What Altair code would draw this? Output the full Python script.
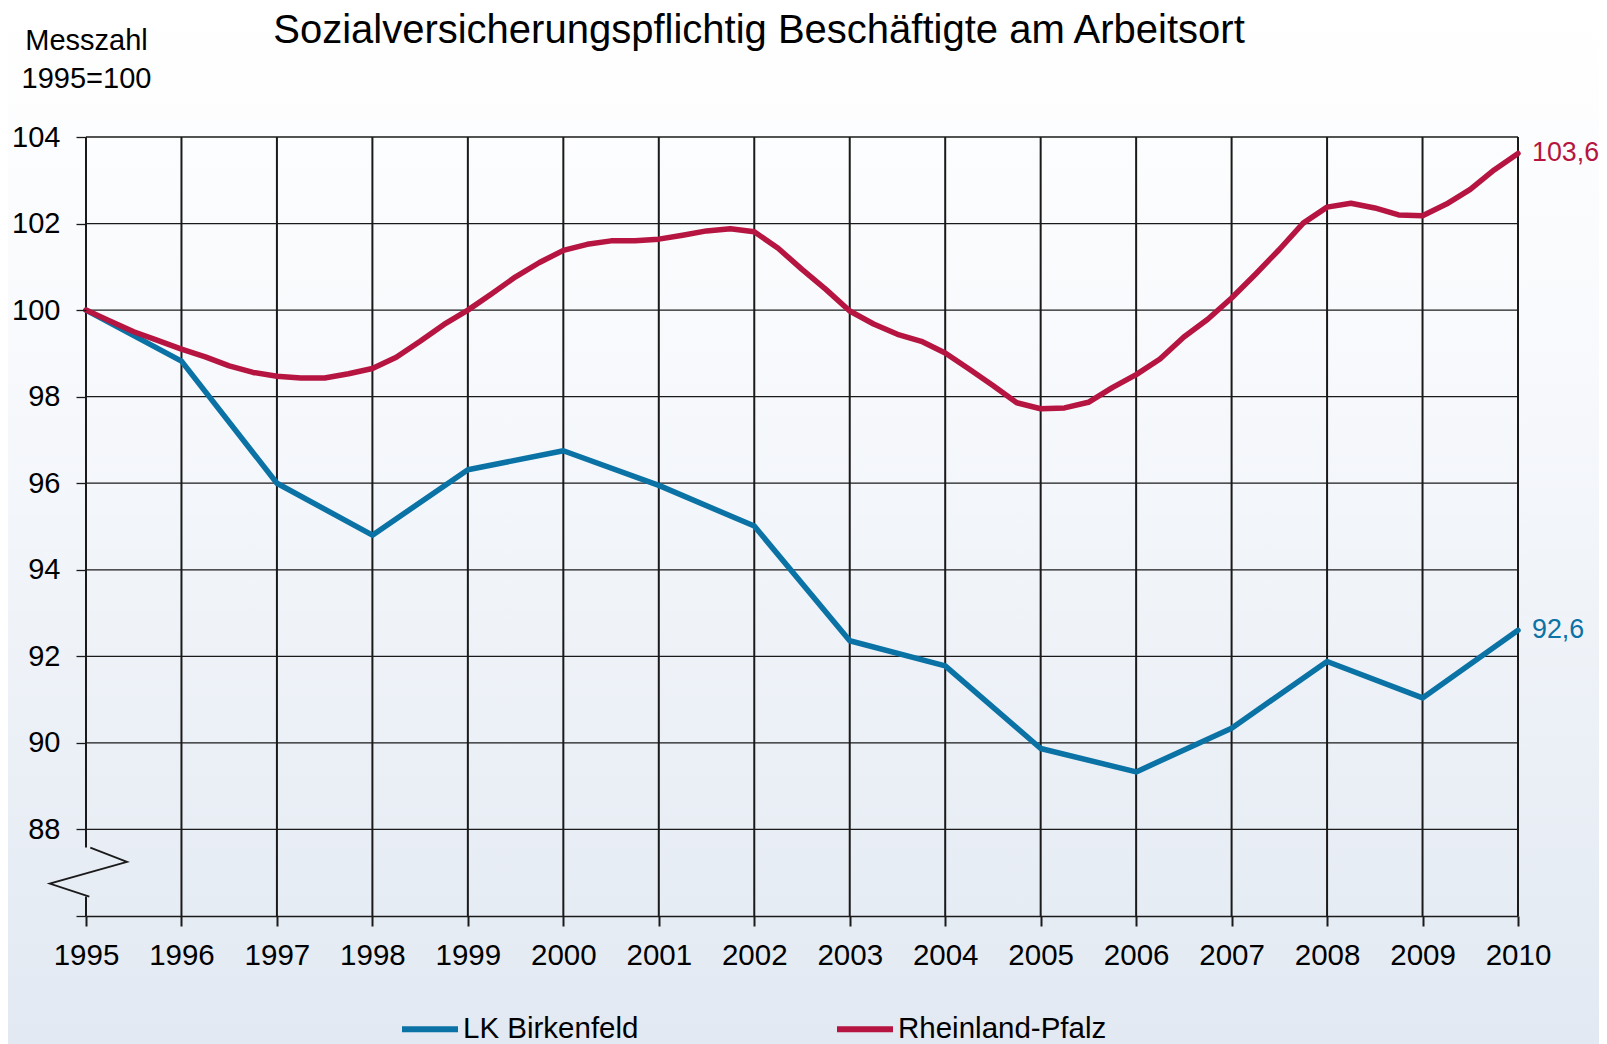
import altair as alt
import pandas as pd

# ---------------- data ----------------
title_text = "Sozialversicherungspflichtig Beschäftigte am Arbeitsort"
y_title = ["Messzahl", "1995=100"]
series_names = ["LK Birkenfeld", "Rheinland-Pfalz"]
series_colors = ["#0a72a4", "#b51540"]

# LK Birkenfeld – annual values
blue_years = list(range(1995, 2011))
blue_values = [100.0, 98.82, 96.0, 94.80, 96.31, 96.75, 95.95, 95.01,
               92.36, 91.78, 89.87, 89.33, 90.34, 91.88, 91.04, 92.6]

# Rheinland-Pfalz – quarterly values (1995 Q1 ... 2010 Q1)
red_quarters = [y + q / 4 for y in range(1995, 2010) for q in range(4)] + [2010.0]
red_values = [100.00, 99.75, 99.50, 99.30,
              99.10, 98.92, 98.71, 98.56,
              98.47, 98.43, 98.43, 98.53,
              98.65, 98.91, 99.28, 99.67,
              100.00, 100.38, 100.77, 101.10,
              101.38, 101.52, 101.60, 101.60,
              101.64, 101.73, 101.83, 101.88,
              101.81, 101.43, 100.94, 100.48,
              99.98, 99.68, 99.44, 99.28,
              99.01, 98.64, 98.26, 97.86,
              97.72, 97.74, 97.87, 98.21,
              98.51, 98.87, 99.38, 99.79,
              100.28, 100.83, 101.40, 102.01,
              102.38, 102.47, 102.36, 102.20,
              102.18, 102.45, 102.79, 103.24,
              103.62]

end_labels = ["92,6", "103,6"]
x_ticks = list(range(1995, 2011))
y_ticks = list(range(86, 105, 2))

# axis break symbol (in data units) and the interrupted left axis line
break_t = [1995.045, 1995.43, 1994.62, 1995.035]
break_v = [87.58, 87.25, 86.75, 86.45]
left_axis_from = [104, 86.45]
left_axis_to = [87.58, 86]

# ---------------- tables ----------------
lines_df = pd.concat([
    pd.DataFrame({"t": blue_years, "value": blue_values, "series": series_names[0]}),
    pd.DataFrame({"t": red_quarters, "value": red_values, "series": series_names[1]}),
], ignore_index=True)
end_df = pd.DataFrame({
    "t": [blue_years[-1], red_quarters[-1]],
    "value": [blue_values[-1], red_values[-1]],
    "series": series_names,
    "label": end_labels,
})
hgrid_df = pd.DataFrame({"value": y_ticks[1:]})
vgrid_df = pd.DataFrame({"t": x_ticks[1:]})
left_df = pd.DataFrame({"t": [1995, 1995], "value": left_axis_from, "value2": left_axis_to})
break_df = pd.DataFrame({"t": break_t, "value": break_v, "i": list(range(len(break_t)))})

FONT = "Liberation Sans"
INK = "#1a1a1a"
W, H = 1432, 779
PAD = {"left": 78, "top": 129, "right": 81, "bottom": 128}

xscale = alt.Scale(domain=[1995, 2010], nice=False, zero=False)
yscale = alt.Scale(domain=[86, 104], nice=False, zero=False)

xaxis = alt.Axis(values=x_ticks, format="d", title=None, grid=False,
                 labelFontSize=29.5, labelFont=FONT, labelColor="black",
                 labelPadding=15, tickSize=10, tickWidth=2, tickColor=INK,
                 domainColor=INK, domainWidth=1.5, labelFlush=False,
                 labelOverlap=False, zindex=1)
yaxis = alt.Axis(values=y_ticks, grid=False, domain=False,
                 labelExpr="datum.value == 86 ? '' : datum.label",
                 labelFontSize=29, labelFont=FONT, labelColor="black",
                 labelPadding=16, tickSize=10, tickWidth=1.3, tickColor=INK,
                 title=y_title, titleAngle=0, titleAlign="center",
                 titleBaseline="alphabetic", titleX=0, titleY=-88,
                 titleFontSize=29, titleFont=FONT, titleFontWeight="normal",
                 titleColor="black", titleLineHeight=38, zindex=1)

X = alt.X("t:Q", scale=xscale, axis=xaxis)
Y = alt.Y("value:Q", scale=yscale, axis=yaxis)

color_scale = alt.Scale(domain=series_names, range=series_colors)

# background gradient covering the whole canvas
bg = alt.Chart(pd.DataFrame({"a": [0]})).mark_rect(
    fill={"gradient": "linear", "x1": 0, "y1": 0, "x2": 0, "y2": 1,
          "stops": [{"offset": 0, "color": "#ffffff"},
                    {"offset": 0.35, "color": "#f7f9fc"},
                    {"offset": 1, "color": "#e2e9f2"}]},
    stroke=None,
).encode(
    x=alt.value(-PAD["left"]), x2=alt.value(W + PAD["right"]),
    y=alt.value(-PAD["top"]), y2=alt.value(H + PAD["bottom"]),
)

hgrid = alt.Chart(hgrid_df).mark_rule(color=INK, strokeWidth=1.3).encode(y=Y)
vgrid = alt.Chart(vgrid_df).mark_rule(color=INK, strokeWidth=2).encode(x=X)
left_line = alt.Chart(left_df).mark_rule(color=INK, strokeWidth=2).encode(
    x=X, y=Y, y2=alt.Y2("value2:Q"))
zigzag = alt.Chart(break_df).mark_line(color=INK, strokeWidth=1.8, clip=False).encode(
    x=X, y=Y, order="i:Q")

lines = alt.Chart(lines_df).mark_line(strokeWidth=5.5, strokeJoin="round",
                                      strokeCap="round").encode(
    x=X, y=Y,
    color=alt.Color("series:N", scale=color_scale,
                    legend=alt.Legend(orient="none", legendX=313, legendY=861,
                                      direction="horizontal", title=None,
                                      symbolType="stroke", symbolSize=3136,
                                      symbolStrokeWidth=6, labelFontSize=29.5,
                                      labelFont=FONT, labelColor="black",
                                      labelOffset=2, columnPadding=186,
                                      padding=0, labelLimit=0)),
)

ends = alt.Chart(end_df).mark_text(align="left", baseline="middle", dx=14,
                                   fontSize=26.8, font=FONT).encode(
    x=X, y=Y, text="label:N",
    color=alt.Color("series:N", scale=color_scale),
)

title = alt.Chart(pd.DataFrame({"label": [title_text]})).mark_text(
    fontSize=40, font=FONT, color="black", align="center", baseline="alphabetic",
).encode(text="label:N", x=alt.value(673), y=alt.value(-94.5))

chart = alt.layer(bg, hgrid, vgrid, left_line, zigzag, lines, ends, title).properties(
    width=W, height=H, padding=PAD, autosize="none",
).configure(font=FONT, background="#ffffff").configure_view(stroke=None)

chart.save("out.html", embed_options={"renderer": "svg", "actions": False})
